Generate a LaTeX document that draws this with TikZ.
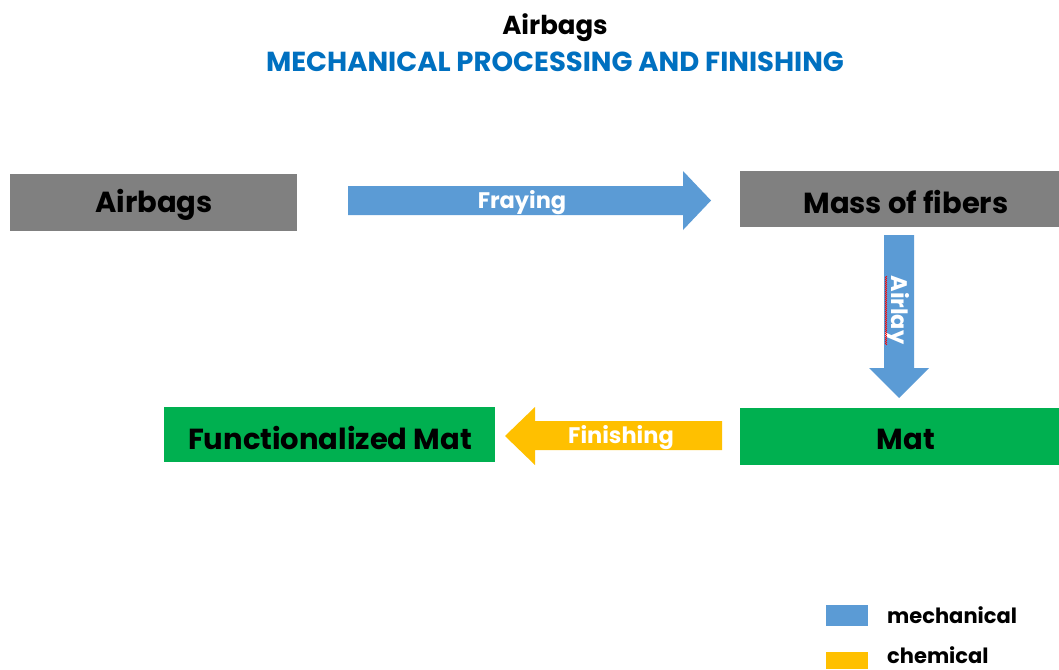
\documentclass[tikz,border=0pt]{standalone}
\usepackage{fontspec}
\setmainfont{Poppins}
\usetikzlibrary{decorations.pathmorphing}
\definecolor{boxgray}{HTML}{808080}
\definecolor{boxgreen}{HTML}{00B050}
\definecolor{mechblue}{HTML}{5B9BD5}
\definecolor{chemyellow}{HTML}{FFC000}
\definecolor{titleblue}{HTML}{0070C0}
\tikzset{
  stepbox/.style={inner sep=0pt, font=\fontsize{29}{31}\selectfont\bfseries, text=black},
  arrowlabel/.style={font=\fontsize{22.5}{24}\selectfont\bfseries, text=white, inner sep=0pt},
  legendtext/.style={font=\fontsize{21}{23}\selectfont\bfseries, anchor=base west, inner sep=0pt},
}
\begin{document}
\begin{tikzpicture}[x=1pt,y=-1pt]
\useasboundingbox (0,0) rectangle (1059,669);
% titles
\node[font=\fontsize{26}{28}\selectfont\bfseries, inner sep=0pt] (title) at (555,28) {Airbags};
\node[font=\fontsize{27.5}{29}\selectfont\bfseries, text=titleblue, inner sep=0pt] (subtitle) at (555,62) {MECHANICAL PROCESSING AND FINISHING};
% boxes
\fill[boxgray] (10,174) rectangle (297,231);
\node[stepbox] (airbags) at (154,205) {Airbags};
\fill[boxgray] (740,171) rectangle (1059,227);
\node[stepbox] (mass) at (906,202) {Mass of fibers};
\fill[boxgreen] (740,408) rectangle (1059,465);
\node[stepbox] (mat) at (906,439) {Mat};
\fill[boxgreen] (164,407) rectangle (495,462);
\node[stepbox] (fmat) at (330,438) {Functionalized Mat};
% Fraying arrow
\fill[mechblue] (348,186) -- (683,186) -- (683,171) -- (711,200.5) -- (683,230) -- (683,215) -- (348,215) -- cycle;
\node[arrowlabel] (fraying) at (522,203) {Fraying};
% Airlay arrow
\fill[mechblue] (884,235) -- (914,235) -- (914,368) -- (929,368) -- (899,398) -- (869,368) -- (884,368) -- cycle;
\node[arrowlabel, rotate=-90] (airlay) at (898,310) {Airlay};
\draw[red, line width=0.5pt, decorate, decoration={zigzag, segment length=2pt, amplitude=0.7pt}]
  (886,276) -- (886,345);
% Finishing arrow
\fill[chemyellow] (722,421) -- (535,421) -- (535,407) -- (505,436) -- (535,465) -- (535,450) -- (722,450) -- cycle;
\node[arrowlabel] (finishing) at (621,438) {Finishing};
% legend
\fill[mechblue] (826,605) rectangle (868,626);
\node[legendtext] (mech) at (887,623) {mechanical};
\fill[chemyellow] (826,652) rectangle (868,669);
\node[legendtext] (chem) at (887,663) {chemical};
\end{tikzpicture}
\end{document}
